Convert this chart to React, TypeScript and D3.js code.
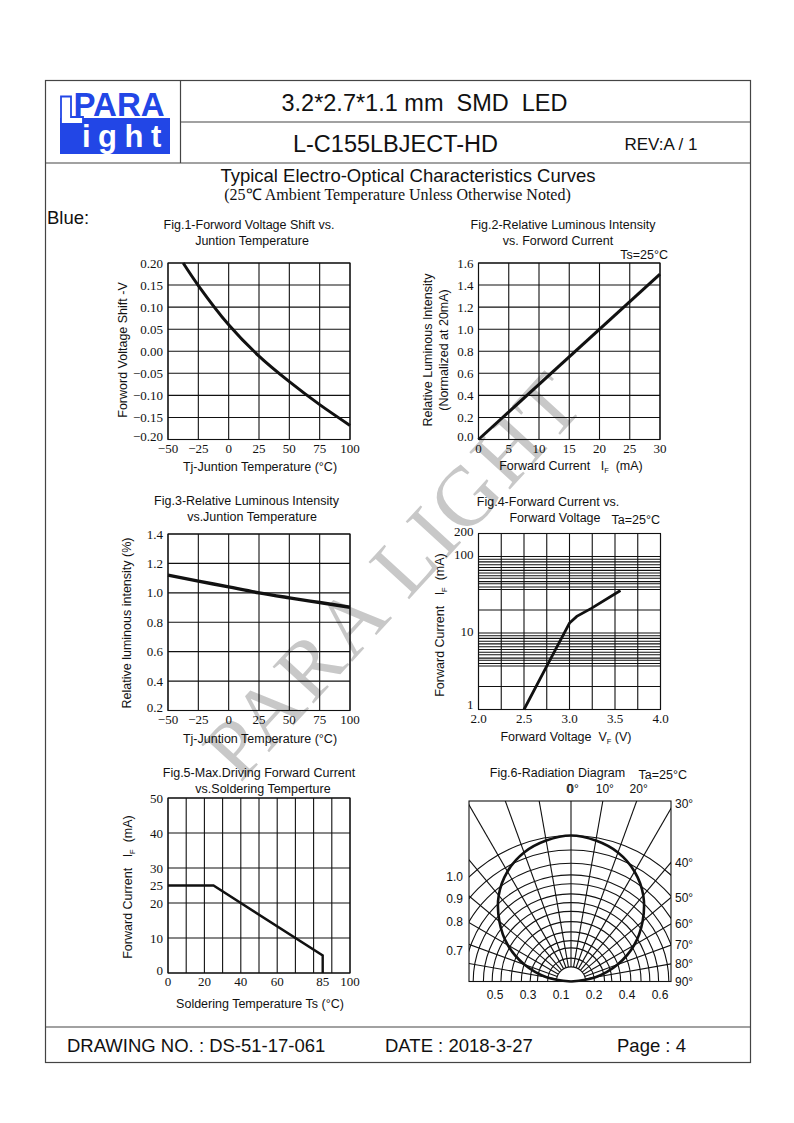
import * as d3 from "d3";

const SANS = "'Liberation Sans', Arial, Helvetica, sans-serif";
const SERIF = "'Liberation Serif', 'Times New Roman', Times, serif";
const INK = "#111";
const FRAME = "#444";
const BLUE = "#2246e6";

// Fig.1 forward voltage shift vs junction temperature
const fig1Temp = [-37.5, -25, 0, 25, 50, 75, 100];
const fig1Shift = [0.2, 0.149, 0.06, -0.011, -0.069, -0.121, -0.168];
const tjTicks = [-50, -25, 0, 25, 50, 75, 100];
const fig1YTicks = [-0.2, -0.15, -0.1, -0.05, 0, 0.05, 0.1, 0.15, 0.2];

// Fig.2 relative intensity vs forward current
const fig2Current = [0, 30];
const fig2Intensity = [0, 1.5];
const fig2XTicks = [0, 5, 10, 15, 20, 25, 30];
const fig2YTicks = [0, 0.2, 0.4, 0.6, 0.8, 1.0, 1.2, 1.4, 1.6];

// Fig.3 relative intensity vs junction temperature
const fig3Temp = [-50, -25, 0, 25, 50, 75, 100];
const fig3Intensity = [1.12, 1.08, 1.04, 1.0, 0.966, 0.934, 0.902];
const fig3YTicks = [0.2, 0.4, 0.6, 0.8, 1.0, 1.2, 1.4];

// Fig.4 forward current vs forward voltage (log)
const fig4Voltage = [2.5, 2.75, 3.0, 3.08, 3.24, 3.56];
const fig4Current = [1, 3.7, 13.5, 16.5, 21, 36];
const fig4XGrid = [2.0, 2.25, 2.5, 2.75, 3.0, 3.25, 3.5, 3.75, 4.0];
const fig4XTicks = [2.0, 2.5, 3.0, 3.5, 4.0];
const fig4YGrid = [
  1, 2, 3.7, 4.0, 4.4, 4.7, 5.2, 5.6, 6.1, 6.6, 7.2, 7.8, 8.5, 9.2, 10,
  20, 37, 40, 44, 47, 52, 56, 61, 66, 72, 78, 85, 92, 100, 200,
];
const fig4YTicks = [1, 10, 100, 200];

// Fig.5 max driving current vs soldering temperature
const fig5Temp = [0, 25, 85, 85];
const fig5Current = [25, 25, 5, 0];
const fig5XGrid = [0, 10, 20, 30, 40, 50, 60, 70, 80, 90, 100];
const fig5XTicks = [0, 20, 40, 60, 85, 100];
const fig5YGrid = [0, 10, 20, 30, 40, 50];
const fig5YTicks = [0, 10, 20, 25, 30, 40, 50];

// Fig.6 radiation diagram
const fig6Angles = [-90, -80, -70, -60, -50, -40, -30, -20, -10, 0, 10, 20, 30, 40, 50, 60, 70, 80, 90];
const fig6Intensity = [0, 0.17, 0.34, 0.5, 0.64, 0.77, 0.87, 0.94, 0.98, 1.0, 0.98, 0.94, 0.87, 0.77, 0.64, 0.5, 0.34, 0.17, 0];
const fig6Rings = [1.0, 0.9, 0.81, 0.73, 0.67, 0.6, 0.54, 0.48, 0.41, 0.34, 0.28, 0.23, 0.16];
const fig6Hub = 0.1;
const fig6RingLabels = ["1.0", "0.9", "0.8", "0.7"];
const fig6BottomLabels = ["0.5", "0.3", "0.1", "0.2", "0.4", "0.6"];
const fig6TopAngles = [0, 10, 20];
const fig6SideAngles = [30, 40, 50, 60, 70, 80, 90];

type Scale = (v: number) => number;

function Grid({ x, y, xGrid, yGrid }: { x: any; y: any; xGrid: number[]; yGrid: number[] }) {
  const [x0, x1] = x.range();
  const [y0, y1] = y.range();
  return (
    <g stroke={INK} strokeWidth={1.1} fill="none">
      {xGrid.map((v) => (
        <line key={"gx" + v} x1={x(v)} x2={x(v)} y1={y1} y2={y0} />
      ))}
      {yGrid.map((v) => (
        <line key={"gy" + v} x1={x0} x2={x1} y1={y(v)} y2={y(v)} />
      ))}
      <rect x={x0} y={y1} width={x1 - x0} height={y0 - y1} />
    </g>
  );
}

function XTicks({ x, y, ticks, fmt, dy = 13 }: { x: any; y: any; ticks: number[]; fmt: (v: number) => string; dy?: number }) {
  const base = y.range()[0] + dy;
  return (
    <g fontFamily={SERIF} fontSize={13} textAnchor="middle" fill={INK}>
      {ticks.map((v) => (
        <text key={v} x={x(v)} y={base}>
          {fmt(v)}
        </text>
      ))}
    </g>
  );
}

// the lowest label sits a little higher, as in the original sheet
function YTicks({ x, y, ticks, fmt, dy = "0.35em" }: { x: any; y: any; ticks: number[]; fmt: (v: number) => string; dy?: string }) {
  const left = x.range()[0] - 5;
  return (
    <g fontFamily={SERIF} fontSize={13} textAnchor="end" fill={INK}>
      {ticks.map((v, i) => (
        <text key={v} x={left} y={y(v) - (i === 0 ? 3 : 0)} dy={dy}>
          {fmt(v)}
        </text>
      ))}
    </g>
  );
}

function Title({ x, y, lines }: { x: number[]; y: number; lines: string[] }) {
  return (
    <g fontFamily={SANS} fontSize={12.5} textAnchor="middle" fill={INK}>
      {lines.map((t, i) => (
        <text key={i} x={x[i]} y={y + i * 16}>
          {t}
        </text>
      ))}
    </g>
  );
}

function YLabel({ x, y, children }: { x: number; y: number; children: any }) {
  return (
    <text
      transform={`translate(${x},${y}) rotate(-90)`}
      textAnchor="middle"
      dy="0.35em"
      fontFamily={SANS}
      fontSize={12.5}
      fill={INK}
      style={{ whiteSpace: "pre" }}
    >
      {children}
    </text>
  );
}

function Sub({ t }: { t: string }) {
  return (
    <>
      <tspan fontSize={7.5} dy={2.5}>
        {t}
      </tspan>
      <tspan dy={-2.5}> </tspan>
    </>
  );
}

const pairLine = (x: Scale, y: Scale, curve: any = d3.curveLinear) =>
  d3
    .line<[number, number]>()
    .x((d) => x(d[0]))
    .y((d) => y(d[1]))
    .curve(curve);

function Fig1() {
  const x = d3.scaleLinear([-50, 100], [168, 350]);
  const y = d3.scaleLinear([-0.2, 0.2], [439.5, 263]);
  const path = pairLine(x, y, d3.curveCatmullRom.alpha(0.5))(d3.zip(fig1Temp, fig1Shift) as [number, number][]);
  return (
    <g>
      <Title x={[249, 252]} y={229} lines={["Fig.1-Forword Voltage Shift vs.", "Juntion Temperature"]} />
      <Grid x={x} y={y} xGrid={tjTicks} yGrid={fig1YTicks} />
      <path d={path || ""} fill="none" stroke={INK} strokeWidth={3} />
      <YTicks x={x} y={y} ticks={fig1YTicks} fmt={d3.format(".2f")} />
      <XTicks x={x} y={y} ticks={tjTicks} fmt={d3.format("d")} />
      <text x={260} y={471} textAnchor="middle" fontFamily={SANS} fontSize={12.5} fill={INK}>
        Tj-Juntion Temperature (°C)
      </text>
      <YLabel x={123} y={350}>Forword Voltage Shift -V</YLabel>
    </g>
  );
}

function Fig2() {
  const x = d3.scaleLinear([0, 30], [478.5, 660]);
  const y = d3.scaleLinear([0, 1.6], [439.5, 263]);
  const path = pairLine(x, y)(d3.zip(fig2Current, fig2Intensity) as [number, number][]);
  return (
    <g>
      <Title x={[563, 558]} y={229} lines={["Fig.2-Relative Luminous Intensity", "vs. Forword Current"]} />
      <text x={668} y={259} textAnchor="end" fontFamily={SANS} fontSize={12.5} fill={INK}>
        Ts=25°C
      </text>
      <Grid x={x} y={y} xGrid={fig2XTicks} yGrid={fig2YTicks} />
      <path d={path || ""} fill="none" stroke={INK} strokeWidth={3} />
      <YTicks x={x} y={y} ticks={fig2YTicks} fmt={d3.format(".1f")} />
      <XTicks x={x} y={y} ticks={fig2XTicks} fmt={d3.format("d")} />
      <text x={571} y={470} textAnchor="middle" fontFamily={SANS} fontSize={12.5} fill={INK} style={{ whiteSpace: "pre" }}>
        {"Forward Current   I"}
        <Sub t="F" />
        {" (mA)"}
      </text>
      <YLabel x={428} y={350}>Relative Luminous Intensity</YLabel>
      <YLabel x={444} y={350}>(Normalized at 20mA)</YLabel>
    </g>
  );
}

function Fig3() {
  const x = d3.scaleLinear([-50, 100], [168, 350]);
  const y = d3.scaleLinear([0.2, 1.4], [710.5, 534]);
  const path = pairLine(x, y, d3.curveMonotoneX)(d3.zip(fig3Temp, fig3Intensity) as [number, number][]);
  return (
    <g>
      <Title x={[246.5, 252]} y={505} lines={["Fig.3-Relative Luminous Intensity", "vs.Juntion Temperature"]} />
      <Grid x={x} y={y} xGrid={tjTicks} yGrid={fig3YTicks} />
      <path d={path || ""} fill="none" stroke={INK} strokeWidth={3.4} />
      <YTicks x={x} y={y} ticks={fig3YTicks} fmt={d3.format(".1f")} />
      <XTicks x={x} y={y} ticks={tjTicks} fmt={d3.format("d")} />
      <text x={260} y={743} textAnchor="middle" fontFamily={SANS} fontSize={12.5} fill={INK}>
        Tj-Juntion Temperature (°C)
      </text>
      <YLabel x={127} y={623}>Relative luminous intensity (%)</YLabel>
    </g>
  );
}

function Fig4() {
  const x = d3.scaleLinear([2, 4], [478.5, 660.5]);
  const y = d3.scaleLog([1, 200], [709.5, 533.5]);
  const path = pairLine(x, y)(d3.zip(fig4Voltage, fig4Current) as [number, number][]);
  return (
    <g>
      <Title x={[548, 555]} y={506} lines={["Fig.4-Forward Current vs.", "Forward Voltage"]} />
      <text x={660} y={524} textAnchor="end" fontFamily={SANS} fontSize={12.5} fill={INK}>
        Ta=25°C
      </text>
      <Grid x={x} y={y} xGrid={fig4XGrid} yGrid={fig4YGrid} />
      <path d={path || ""} fill="none" stroke={INK} strokeWidth={2.8} />
      <YTicks x={x} y={y} ticks={fig4YTicks} fmt={d3.format("d")} dy="0.2em" />
      <XTicks x={x} y={y} ticks={fig4XTicks} fmt={d3.format(".1f")} />
      <text x={566} y={741} textAnchor="middle" fontFamily={SANS} fontSize={12.5} fill={INK} style={{ whiteSpace: "pre" }}>
        {"Forward Voltage  V"}
        <Sub t="F" />
        {"(V)"}
      </text>
      <YLabel x={440} y={625}>
        {"Forward Current   I"}
        <Sub t="F" />
        {" (mA)"}
      </YLabel>
    </g>
  );
}

function Fig5() {
  const x = d3.scaleLinear([0, 100], [168, 350]);
  const y = d3.scaleLinear([0, 50], [973, 798]);
  const path = pairLine(x, y)(d3.zip(fig5Temp, fig5Current) as [number, number][]);
  return (
    <g>
      <Title x={[259, 263]} y={777} lines={["Fig.5-Max.Driving Forward Current", "vs.Soldering Temperture"]} />
      <Grid x={x} y={y} xGrid={fig5XGrid} yGrid={fig5YGrid} />
      <path d={path || ""} fill="none" stroke={INK} strokeWidth={2.4} />
      <YTicks x={x} y={y} ticks={fig5YTicks} fmt={d3.format("d")} />
      <XTicks x={x} y={y} ticks={fig5XTicks} fmt={d3.format("d")} />
      <text x={260} y={1008} textAnchor="middle" fontFamily={SANS} fontSize={12.5} fill={INK}>
        Soldering Temperature Ts (°C)
      </text>
      <YLabel x={128} y={887}>
        {"Forward Current   I"}
        <Sub t="F" />
        {" (mA)"}
      </YLabel>
    </g>
  );
}

function Fig6() {
  const box = { l: 469, r: 671, t: 801, b: 981.5 };
  const cx = 571;
  const cy = box.b;
  const rs = d3.scaleLinear([0, 1], [0, 146]);
  const rad = (a: number) => (a * Math.PI) / 180;
  const arcPath = (r: number) => {
    const p = d3.path();
    p.arc(cx, cy, r, -Math.PI, 0);
    return p.toString();
  };
  const rayEnd = (a: number) => {
    const s = Math.sin(rad(a));
    const c = Math.cos(rad(a));
    const tTop = c > 1e-6 ? (cy - box.t) / c : Infinity;
    const tRight = s > 1e-6 ? (box.r - cx) / s : Infinity;
    const t = Math.min(tTop, tRight);
    return [cx + t * s, cy - t * c];
  };
  const curve = d3
    .lineRadial<number>()
    .angle((_, i) => rad(fig6Angles[i]))
    .radius((d) => rs(d))
    .curve(d3.curveCatmullRom)(fig6Intensity);
  const hubR = rs(fig6Hub);
  const bottom = d3.scalePoint(fig6BottomLabels, [box.l + 26, box.r - 11]);
  return (
    <g>
      <defs>
        <clipPath id="fig6clip">
          <rect x={box.l} y={box.t} width={box.r - box.l} height={box.b - box.t} />
        </clipPath>
      </defs>
      <text x={557.5} y={777} textAnchor="middle" fontFamily={SANS} fontSize={12.5} fill={INK}>
        Fig.6-Radiation Diagram
      </text>
      <text x={687} y={779} textAnchor="end" fontFamily={SANS} fontSize={12.5} fill={INK}>
        Ta=25°C
      </text>
      <g clipPath="url(#fig6clip)" stroke={INK} strokeWidth={1.1} fill="none">
        {fig6Rings.map((r) => (
          <path key={"ring" + r} d={arcPath(rs(r))} />
        ))}
        {fig6Angles.map((a) => (
          <line
            key={"ray" + a}
            x1={cx + hubR * Math.sin(rad(a))}
            y1={cy - hubR * Math.cos(rad(a))}
            x2={cx + 320 * Math.sin(rad(a))}
            y2={cy - 320 * Math.cos(rad(a))}
          />
        ))}
        <path d={arcPath(hubR)} fill="#fff" />
      </g>
      <rect x={box.l} y={box.t} width={box.r - box.l} height={box.b - box.t} fill="none" stroke={INK} strokeWidth={1.1} />
      <path d={curve || ""} transform={`translate(${cx},${cy})`} fill="none" stroke={INK} strokeWidth={2.6} />
      <g fontFamily={SANS} fontSize={12} fill={INK}>
        {fig6TopAngles.map((a) => (
          <text key={"ta" + a} x={rayEnd(a)[0] + 2} y={box.t - 8} textAnchor="middle">
            {a}°
          </text>
        ))}
        <text x={cx - 1.5} y={box.t - 8} textAnchor="middle">
          0
        </text>
        {fig6SideAngles.map((a) => (
          <text key={"sa" + a} x={box.r + 4} y={rayEnd(a)[1]} dy={a === 30 ? "0" : "0.35em"}>
            {a}°
          </text>
        ))}
        {fig6RingLabels.map((lab, i) => {
          const r = rs(fig6Rings[i]);
          const dx = cx - box.l;
          const yy = cy - Math.sqrt(r * r - dx * dx);
          return (
            <text key={"rl" + lab} x={box.l - 6} y={yy} dy="0.35em" textAnchor="end">
              {lab}
            </text>
          );
        })}
        {fig6BottomLabels.map((lab) => (
          <text key={"bl" + lab} x={bottom(lab)} y={box.b + 17} textAnchor="middle">
            {lab}
          </text>
        ))}
      </g>
    </g>
  );
}

function Header() {
  return (
    <g>
      <g stroke={FRAME} strokeWidth={1.2} fill="none">
        <rect x={45.5} y={80.5} width={705} height={982} />
        <line x1={180.5} y1={80} x2={180.5} y2={163} />
        <line x1={180} y1={122} x2={750} y2={122} />
        <line x1={45} y1={163} x2={750} y2={163} />
        <line x1={45} y1={1027} x2={750} y2={1027} />
      </g>
      {/* logo */}
      <rect x={60} y={118} width={110} height={36} fill={BLUE} />
      <path d="M61,96.5 H71 V117 H83 V124 H61 Z" fill="#fff" stroke={BLUE} strokeWidth={1.8} />
      <text x={73.5} y={116} fontFamily={SANS} fontWeight="bold" fontSize={33} fill={BLUE}>
        PARA
      </text>
      <text x={82} y={147} fontFamily={SANS} fontWeight="bold" fontSize={31} fill="#fff" letterSpacing={7.5}>
        ight
      </text>
      <g fontFamily={SANS} fill={INK}>
        <text x={424.5} y={110.5} fontSize={23.5} textAnchor="middle" style={{ whiteSpace: "pre" }}>
          {"3.2*2.7*1.1 mm  SMD  LED"}
        </text>
        <text x={395.5} y={151.5} fontSize={23.5} textAnchor="middle">
          L-C155LBJECT-HD
        </text>
        <text x={661} y={150} fontSize={17} textAnchor="middle">
          REV:A / 1
        </text>
        <text x={408} y={182} fontSize={18.5} textAnchor="middle">
          Typical Electro-Optical Characteristics Curves
        </text>
        <text x={47} y={224} fontSize={18.5}>
          Blue:
        </text>
      </g>
      <text x={397.5} y={200} fontFamily={SERIF} fontSize={16} textAnchor="middle" fill={INK}>
        (25℃ Ambient Temperature Unless Otherwise Noted)
      </text>
    </g>
  );
}

function Footer() {
  return (
    <g fontFamily={SANS} fontSize={18.5} fill={INK}>
      <text x={67} y={1052}>DRAWING NO. : DS-51-17-061</text>
      <text x={385} y={1052}>DATE : 2018-3-27</text>
      <text x={617} y={1052}>Page : 4</text>
    </g>
  );
}

// faint diagonal company watermark, drawn under the charts
function Watermark() {
  return (
    <text
      transform="translate(414,594) rotate(-47.5)"
      textAnchor="middle"
      fontFamily={SERIF}
      fontSize={84}
      letterSpacing={3}
      fill="#c8c8c8"
    >
      PARA LIGHT
    </text>
  );
}

export default function App() {
  return (
    <svg
      width={794}
      height={1123}
      viewBox="0 0 794 1123"
      style={{ position: "absolute", left: 0, top: 0, background: "#fff" }}
    >
      <rect width={794} height={1123} fill="#fff" />
      <Watermark />
      <Header />
      <Fig1 />
      <Fig2 />
      <Fig3 />
      <Fig4 />
      <Fig5 />
      <Fig6 />
      <Footer />
    </svg>
  );
}
